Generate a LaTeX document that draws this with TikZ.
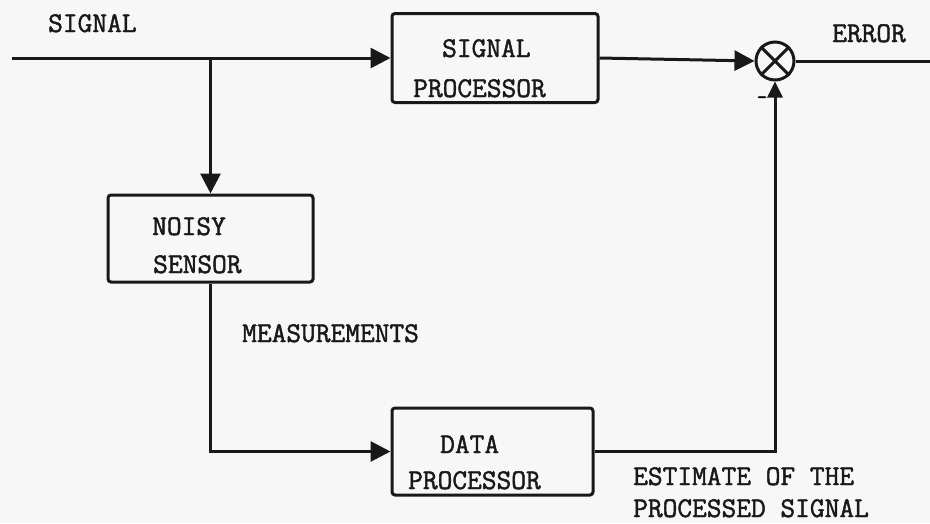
\documentclass[tikz,border=0pt]{standalone}
\usepackage{fontspec}
\newfontfamily\typerfont[FakeBold=1.6]{Latin Modern Mono}
\usetikzlibrary{arrows.meta}
\begin{document}
\begin{tikzpicture}[x=1pt,y=-1pt,
  ink/.style={line width=3pt,draw=black!90},
  blockbox/.style={ink,rectangle,rounded corners=3pt,inner sep=0pt},
  arr/.style={ink,-{Triangle[length=20pt,width=20pt]}},
  smallarr/.style={ink,-{Triangle[length=16pt,width=15pt]}},
  txt/.style={font=\fontsize{28.6}{34}\selectfont\typerfont,inner sep=0pt,anchor=base west,text=black!90},
  sumnode/.style={ink,circle,minimum size=38pt,inner sep=0pt}]
\fill[black!3] (0,0) rectangle (930,523);
\useasboundingbox (0,0) rectangle (930,523);
% blocks
\node[blockbox,minimum width=206pt,minimum height=89pt] (sp) at (495,58) {};
\node[blockbox,minimum width=205pt,minimum height=87pt] (ns) at (210.5,238.5) {};
\node[blockbox,minimum width=201pt,minimum height=87pt] (dp) at (492.5,451.5) {};
\node[sumnode] (sj) at (775,61) {};
\draw[ink] (sj.45) -- (sj.225) (sj.135) -- (sj.315);
% texts
\node[txt] (tsig) at (48,32) {SIGNAL};
\node[txt] (terr) at (832,42) {ERROR};
\node[txt] (sp1) at (442,57) {SIGNAL};
\node[txt] (sp2) at (413,97) {PROCESSOR};
\node[txt] (ns1) at (152,235) {NOISY};
\node[txt] (ns2) at (153,273) {SENSOR};
\node[txt] (tmeas) at (242,342) {MEASUREMENTS};
\node[txt] (dp1) at (440,453) {DATA};
\node[txt] (dp2) at (408,489) {PROCESSOR};
\node[txt] (est1) at (633,485) {ESTIMATE OF THE};
\node[txt] (est2) at (633,517) {PROCESSED SIGNAL};
\node[font=\fontsize{20}{20}\selectfont\typerfont,inner sep=0pt] (minus) at (762,100) {-};
% connectors
\coordinate (in) at (12,58);
\coordinate (br) at (210.5,58);
\coordinate (out) at (930,61);
\draw[arr] (in) -- (sp.west);
\draw[arr] (br) -- (ns.north);
\draw[arr] (ns.south) -- (ns.south |- dp.west) -- (dp.west);
\draw[arr] (sp.east) -- (sj.west);
\draw[smallarr] (dp.east) -- (sj.south |- dp.east) -- (sj.south);
\draw[ink] (sj.east) -- (out);
\end{tikzpicture}
\end{document}
